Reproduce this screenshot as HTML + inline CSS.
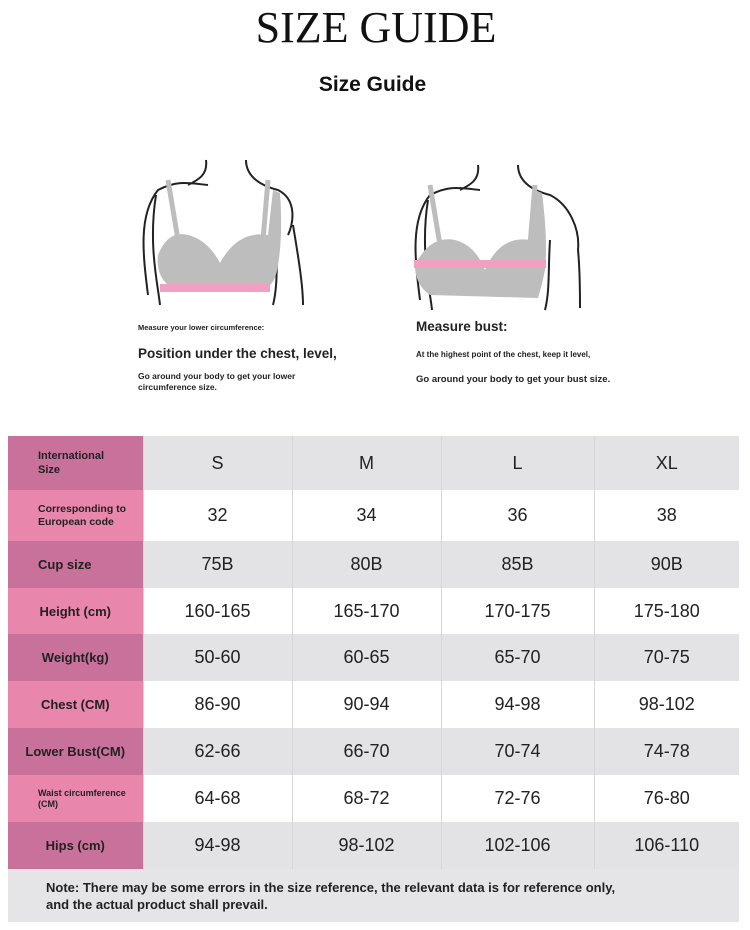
<!DOCTYPE html>
<html><head><meta charset="utf-8"><style>
body{margin:0;width:750px;height:930px;background:#fff;position:relative;font-family:"Liberation Sans",sans-serif;overflow:hidden}
.abs{position:absolute}
table{position:absolute;left:8px;top:436px;border-collapse:collapse;width:731px;table-layout:fixed}
td{padding:0;text-align:center;font-size:18px;color:#222;box-sizing:border-box}
td.l{font-weight:bold;font-size:13px;color:#222;text-align:center}
tr.d td{background:#e3e3e6}tr.d td.l{background:#c8719a}
tr.w td{background:#fff}tr.w td.l{background:#e886ab}
td+td{border-left:1px solid #d6d6d8}
</style></head><body>
<div class="abs" style="left:0;width:752px;top:2px;text-align:center;font-family:'Liberation Serif',serif;font-size:44px;color:#111">SIZE GUIDE</div>
<div class="abs" style="left:0;width:745px;top:73px;text-align:center;font-weight:bold;font-size:21px;color:#111">Size Guide</div>
<svg class="abs" style="left:128px;top:155px" width="200" height="160" viewBox="0 0 200 160">
<path d="M20 140 C15 100 10 60 30 35 C50 25 60 28 80 30 M78 5 C80 20 70 25 60 30 M118 5 C118 20 130 30 150 35 C170 45 165 70 160 80 M165 70 C170 100 175 130 175 150 M28 40 C20 90 30 130 32 150 M150 80 C148 110 150 130 145 150" fill="none" stroke="#222" stroke-width="2"/>
<path d="M30 100 Q40 75 60 80 Q80 85 92 108 Q110 75 140 80 L145 35 L152 38 Q155 80 150 110 Q148 125 142 130 L40 130 Q28 120 30 100Z" fill="#bdbdbd"/>
<path d="M40 25 L50 85 M140 25 L135 85" stroke="#bdbdbd" stroke-width="5"/>
<rect x="32" y="129" width="110" height="8" fill="#f0a0c0"/>
</svg>
<svg class="abs" style="left:400px;top:160px" width="200" height="155" viewBox="0 0 200 155">
<path d="M20 140 C15 100 10 60 30 35 C50 25 60 28 80 30 M78 5 C80 20 70 25 60 30 M118 5 C118 20 130 30 150 35 C170 45 180 70 178 90 C180 110 180 130 180 148 M28 40 C20 90 30 130 32 150 M150 80 C148 110 150 130 145 150" fill="none" stroke="#222" stroke-width="2"/>
<path d="M15 105 Q30 75 55 80 Q75 85 85 110 Q100 75 130 80 L135 30 L142 33 Q148 80 145 110 Q142 125 138 138 L30 135 Q15 125 15 105Z" fill="#bdbdbd"/>
<path d="M30 25 L40 85 M135 25 L130 85" stroke="#bdbdbd" stroke-width="5"/>
<rect x="14" y="100" width="132" height="8" fill="#f0a0c0"/>
</svg>
<div class="abs" style="left:138px;top:323px;font-size:7.5px;font-weight:bold;color:#222">Measure your lower circumference:</div>
<div class="abs" style="left:138px;top:346px;font-size:13.5px;font-weight:bold;color:#222">Position under the chest, level,</div>
<div class="abs" style="left:138px;top:371px;font-size:8.5px;font-weight:bold;color:#222;line-height:11px">Go around your body to get your lower<br>circumference size.</div>
<div class="abs" style="left:416px;top:319px;font-size:13.5px;font-weight:bold;color:#222">Measure bust:</div>
<div class="abs" style="left:416px;top:350px;font-size:8px;font-weight:bold;color:#222">At the highest point of the chest, keep it level,</div>
<div class="abs" style="left:416px;top:374px;font-size:9.5px;font-weight:bold;color:#222">Go around your body to get your bust size.</div>
<table>
<colgroup><col style="width:135px"><col style="width:149px"><col style="width:149px"><col style="width:153px"><col style="width:145px"></colgroup>
<tr class="d" style="height:54px"><td class="l" style="text-align:left;padding-left:30px;font-size:11px;line-height:14px">International<br>Size</td><td>S</td><td>M</td><td>L</td><td>XL</td></tr>
<tr class="w" style="height:51px"><td class="l" style="text-align:left;padding-left:30px;font-size:10.5px;line-height:13px">Corresponding to<br>European code</td><td>32</td><td>34</td><td>36</td><td>38</td></tr>
<tr class="d" style="height:47px"><td class="l" style="text-align:left;padding-left:30px">Cup size</td><td>75B</td><td>80B</td><td>85B</td><td>90B</td></tr>
<tr class="w" style="height:46px"><td class="l">Height (cm)</td><td>160-165</td><td>165-170</td><td>170-175</td><td>175-180</td></tr>
<tr class="d" style="height:47px"><td class="l">Weight(kg)</td><td>50-60</td><td>60-65</td><td>65-70</td><td>70-75</td></tr>
<tr class="w" style="height:47px"><td class="l">Chest (CM)</td><td>86-90</td><td>90-94</td><td>94-98</td><td>98-102</td></tr>
<tr class="d" style="height:47px"><td class="l">Lower Bust(CM)</td><td>62-66</td><td>66-70</td><td>70-74</td><td>74-78</td></tr>
<tr class="w" style="height:47px"><td class="l" style="text-align:left;padding-left:30px;font-size:9px;line-height:11px">Waist circumference<br>(CM)</td><td>64-68</td><td>68-72</td><td>72-76</td><td>76-80</td></tr>
<tr class="d" style="height:47px"><td class="l">Hips (cm)</td><td>94-98</td><td>98-102</td><td>102-106</td><td>106-110</td></tr>
<tr><td colspan="5" style="background:#e5e5e7;height:53px;text-align:left;padding-left:38px;font-size:13px;font-weight:bold;line-height:17px;color:#222">Note: There may be some errors in the size reference, the relevant data is for reference only,<br>and the actual product shall prevail.</td></tr>
</table>
</body></html>
